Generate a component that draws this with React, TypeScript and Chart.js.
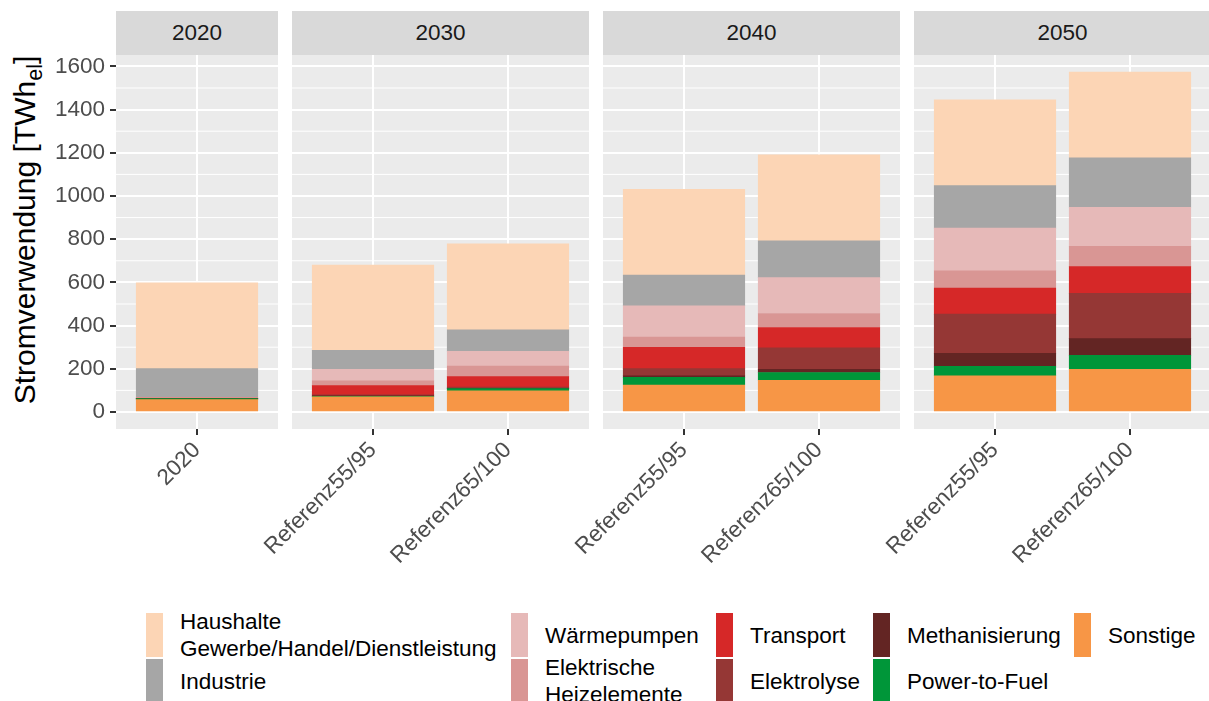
import React, { useEffect, useRef } from 'react';
import { Chart, registerables } from 'chart.js';

Chart.register(...registerables);

const FONT = "'Liberation Sans', Arial, Helvetica, sans-serif";
const TEXT_SIZE = 22.5;

// ---- data ----
const facetLabels = ['2020', '2030', '2040', '2050'];
const categories2020 = ['2020'];
const scenarioCategories = ['Referenz55/95', 'Referenz65/100'];
// bars (index into series arrays): 2020 | 2030 R55, R65 | 2040 R55, R65 | 2050 R55, R65
const facetBarIndex = [[0], [1, 2], [3, 4], [5, 6]];

const sonstige = [57, 70, 98, 125, 147, 167, 197];
const powerToFuel = [5, 3, 10, 35, 36, 45, 65];
const methanisierung = [0, 2, 2, 7, 14, 60, 78];
const elektrolyse = [0, 4, 5, 34, 100, 181, 209];
const transport = [2, 43, 49, 98, 94, 121, 124];
const heizelemente = [1, 22, 49, 48, 65, 79, 94];
const waermepumpen = [3, 54, 68, 145, 166, 198, 181];
const industrie = [133, 88, 99, 142, 170, 197, 229];
const haushalte = [397, 394, 398, 397, 399, 397, 397];

const yTickValues = [0, 200, 400, 600, 800, 1000, 1200, 1400, 1600];
const yMinorValues = [100, 300, 500, 700, 900, 1100, 1300, 1500];

// stack order bottom -> top
const seriesTable = [
  { name: 'Sonstige', values: sonstige, color: '#F79646' },
  { name: 'Power-to-Fuel', values: powerToFuel, color: '#009639' },
  { name: 'Methanisierung', values: methanisierung, color: '#632523' },
  { name: 'Elektrolyse', values: elektrolyse, color: '#953735' },
  { name: 'Transport', values: transport, color: '#D62828' },
  { name: 'Elektrische\nHeizelemente', values: heizelemente, color: '#D99694' },
  { name: 'Wärmepumpen', values: waermepumpen, color: '#E6B9B8' },
  { name: 'Industrie', values: industrie, color: '#A6A6A6' },
  { name: 'Haushalte\nGewerbe/Handel/Dienstleistung', values: haushalte, color: '#FCD5B5' },
];

const totals = sonstige.map((_, i) => seriesTable.reduce((a, s) => a + s.values[i], 0));
const maxTotal = Math.max(...totals);
const yMax = maxTotal * 1.05;
const yMin = -maxTotal * 0.05;

// ---- layout ----
const PANEL_TOP = 55;
const PANEL_H = 374;
const CANVAS_H = 540;
const Y_AXIS_W = 116;
const OVERHANG = 70;
const panelGeom = [
  { left: 116, width: 162 },
  { left: 292, width: 297 },
  { left: 603, width: 297 },
  { left: 914, width: 297 },
];

const panelBackground = {
  id: 'panelBackground',
  beforeDraw(chart: any) {
    const { ctx, chartArea, scales } = chart;
    const { left, top, right, bottom } = chartArea;
    ctx.save();
    ctx.fillStyle = '#EBEBEB';
    ctx.fillRect(left, top, right - left, bottom - top);
    ctx.strokeStyle = '#FFFFFF';
    ctx.lineWidth = 1;
    for (const v of yMinorValues) {
      const py = scales.y.getPixelForValue(v);
      ctx.beginPath();
      ctx.moveTo(left, py);
      ctx.lineTo(right, py);
      ctx.stroke();
    }
    ctx.restore();
  },
};

function FacetChart({ facet }: { facet: number }) {
  const ref = useRef<HTMLCanvasElement>(null);
  const geom = panelGeom[facet];
  const isFirst = facet === 0;
  const extraLeft = isFirst ? Y_AXIS_W : OVERHANG;
  const canvasLeft = geom.left - extraLeft;
  const canvasW = geom.width + extraLeft;

  useEffect(() => {
    const bars = facetBarIndex[facet];
    const cats = facet === 0 ? categories2020 : scenarioCategories;
    const n = cats.length;
    const unit = geom.width / (n + 0.2);
    const chart = new Chart(ref.current as HTMLCanvasElement, {
      type: 'bar',
      data: {
        datasets: seriesTable.map((s) => ({
          label: s.name,
          data: bars.map((b, j) => ({ x: j, y: s.values[b] })),
          backgroundColor: s.color,
          borderWidth: 0,
          barThickness: unit * 0.9,
        })),
      } as any,
      options: {
        responsive: false,
        animation: false,
        layout: { padding: { left: isFirst ? 0 : extraLeft, right: 0, top: 0, bottom: 0 } },
        plugins: { legend: { display: false }, tooltip: { enabled: false } },
        scales: {
          x: {
            type: 'linear',
            stacked: true,
            min: -0.6,
            max: n - 0.4,
            bounds: 'data',
            offset: false,
            afterBuildTicks: (s: any) => {
              s.ticks = cats.map((_, i) => ({ value: i }));
            },
            afterFit: (s: any) => {
              s.height = CANVAS_H - PANEL_H;
              s.paddingLeft = 0;
              s.paddingRight = 0;
            },
            grid: {
              color: '#FFFFFF',
              lineWidth: 2,
              offset: false,
              drawTicks: true,
              tickLength: 6,
              tickColor: '#333333',
              tickWidth: 2,
            },
            border: { display: false },
            ticks: {
              autoSkip: false,
              minRotation: 45,
              maxRotation: 45,
              padding: 2,
              color: '#4D4D4D',
              font: { family: FONT, size: TEXT_SIZE },
              callback: (v: any) => cats[v as number] ?? '',
            },
          },
          y: {
            type: 'linear',
            stacked: true,
            min: yMin,
            max: yMax,
            bounds: 'data',
            afterBuildTicks: (s: any) => {
              s.ticks = yTickValues.map((v) => ({ value: v }));
            },
            afterFit: (s: any) => {
              s.width = isFirst ? Y_AXIS_W : 0;
              s.paddingTop = 0;
              s.paddingBottom = 0;
            },
            grid: {
              color: '#FFFFFF',
              lineWidth: 2,
              drawTicks: isFirst,
              tickLength: 6,
              tickColor: '#333333',
              tickWidth: 2,
            },
            border: { display: false },
            ticks: {
              display: isFirst,
              padding: 5,
              color: '#4D4D4D',
              font: { family: FONT, size: TEXT_SIZE },
              callback: (v: any) => String(v),
            },
          },
        },
      } as any,
      plugins: [panelBackground],
    });
    return () => chart.destroy();
  }, []);

  return (
    <>
      <div
        style={{
          position: 'absolute',
          left: geom.left,
          top: 11,
          width: geom.width,
          height: PANEL_TOP - 11,
          background: '#D9D9D9',
          color: '#1A1A1A',
          font: `${TEXT_SIZE}px ${FONT}`,
          lineHeight: `${PANEL_TOP - 11}px`,
          textAlign: 'center',
        }}
      >
        {facetLabels[facet]}
      </div>
      <canvas
        ref={ref}
        width={canvasW}
        height={CANVAS_H}
        style={{ position: 'absolute', left: canvasLeft, top: PANEL_TOP, width: canvasW, height: CANVAS_H }}
      />
    </>
  );
}

const legendColumnX = [146, 511, 716, 873, 1074];
const legendRowY = [613, 659];

function Legend() {
  const items = [...seriesTable].reverse();
  return (
    <>
      {items.map((s, i) => {
        const col = Math.floor(i / 2);
        const row = i % 2;
        const x = legendColumnX[col];
        const y = legendRowY[row];
        return (
          <div
            key={s.name}
            style={{
              position: 'absolute',
              left: x,
              top: y,
              height: 44,
              display: 'flex',
              alignItems: 'center',
              whiteSpace: 'pre',
            }}
          >
            <div style={{ width: 17, height: 44, background: s.color }} />
            <div
              style={{
                marginLeft: 17,
                font: `${TEXT_SIZE}px ${FONT}`,
                lineHeight: '27px',
                color: '#000000',
              }}
            >
              {s.name}
            </div>
          </div>
        );
      })}
    </>
  );
}

export default function App() {
  return (
    <div
      style={{
        position: 'fixed',
        left: 0,
        top: 0,
        width: 1209,
        height: 701,
        overflow: 'hidden',
        background: '#FFFFFF',
      }}
    >
      <div
        style={{
          position: 'absolute',
          left: 28,
          top: 230,
          transform: 'translate(-50%, -50%) rotate(-90deg)',
          whiteSpace: 'nowrap',
          font: `30px ${FONT}`,
          color: '#000000',
        }}
      >
        Stromverwendung [TWh<sub style={{ fontSize: '0.72em', verticalAlign: '-0.28em' }}>el</sub>]
      </div>
      {facetLabels.map((_, f) => (
        <FacetChart key={f} facet={f} />
      ))}
      <Legend />
    </div>
  );
}
